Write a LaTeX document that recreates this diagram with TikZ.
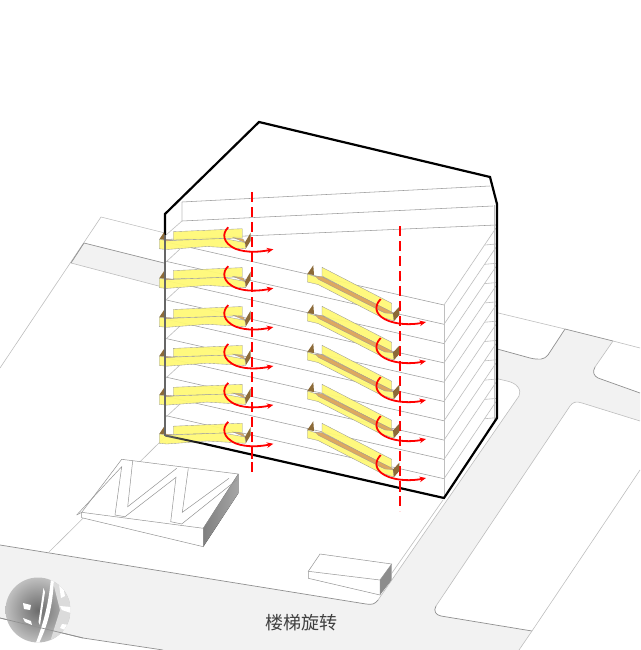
\documentclass[tikz,border=0pt]{standalone}
\usepackage{fontspec}
\newfontfamily\cjkfont{Noto Sans CJK SC}
\usetikzlibrary{arrows.meta}
\definecolor{roadgrey}{HTML}{F2F2F2}
\definecolor{thinline}{HTML}{BEBEBE}
\definecolor{curbline}{HTML}{909090}
\definecolor{stairyellow}{HTML}{FFF976}
\definecolor{stairbrown}{HTML}{8C6A38}
\definecolor{stairorange}{HTML}{DDA860}
\definecolor{blockdark}{HTML}{8C8C8C}
\tikzset{
  thin grey/.style={draw=thinline,line width=0.6pt},
  curb/.style={draw=curbline,line width=0.7pt},
  floorline/.style={draw=black!38,line width=0.55pt},
  blockline/.style={draw=black!42,line width=0.5pt},
  yellowface/.style={fill=stairyellow,fill opacity=0.94,draw=black!40,line width=0.35pt},
  brownface/.style={fill=stairbrown,draw=none},
  orangeface/.style={fill=stairorange,draw=black!40,line width=0.3pt},
  turn/.style={draw=red,line width=1.8pt,-{Stealth[length=6.5pt,width=5.5pt]}},
  axisline/.style={draw=red,line width=1.5pt,dash pattern=on 10pt off 5pt},
  outline/.style={draw=black,line width=2.2pt,line join=miter}
}
\begin{document}
\begin{tikzpicture}[x=1pt,y=-1pt]
\useasboundingbox (0,0) rectangle (640,650);
% road surface
\fill[roadgrey] (0,545) -- (366,604) .. controls (372,605) and (375,604) .. (378,600) -- (519,396)
  .. controls (522,390) and (517,383) .. (507,381) -- (490,377) -- (490,347) -- (530,358)
  .. controls (539,360) and (544,360) .. (548,355) -- (565,329) -- (613,341) -- (595,367)
  .. controls (592,372) and (594,376) .. (598,378) -- (640,393) -- (640,421) -- (582,403)
  .. controls (576,401) and (573,402) .. (570,406) -- (436,606)
  .. controls (433,611) and (436,615) .. (441,616) -- (532,631) -- (519,650) -- (163,650)
  -- (83,638) -- (0,618) -- cycle;
\fill[roadgrey] (84,243) -- (176,266) -- (170,289) -- (71,263) -- cycle;
% road edges and site lines
\draw[curb] (0,545) -- (366,604) .. controls (372,605) and (375,604) .. (378,600);
\draw[thin grey] (378,600) -- (519,396) .. controls (522,390) and (517,383) .. (507,381) -- (490,377);
\draw[thin grey] (380,590) -- (443,500);
\draw[curb] (0,618) -- (83,638) -- (163,650);
\draw[curb] (490,347) -- (530,358) .. controls (539,360) and (544,360) .. (548,355);
\draw[curb] (548,355) -- (565,329);
\draw[curb] (565,329) -- (613,341);
\draw[thin grey] (613,341) -- (595,367);
\draw[curb] (595,367) .. controls (592,372) and (594,376) .. (598,378) -- (640,393);
\draw[thin grey] (640,421) -- (582,403) .. controls (576,401) and (573,402) .. (570,406) -- (436,606);
\draw[curb] (436,606) .. controls (433,611) and (436,615) .. (441,616) -- (532,631);
\draw[thin grey] (640,470) -- (532,631) -- (519,650);
\draw[thin grey] (490,311) -- (565,329);
\draw[thin grey] (613,341) -- (640,348);
\draw[thin grey] (165,233) -- (101,217) -- (0,368);
\draw[curb] (84,243) -- (176,266);
\draw[thin grey] (71,263) -- (170,289);
\draw[curb] (84,243) -- (71,263);
\draw[thin grey] (166,436) -- (49,552);
% building body
\fill[white] (165,214) -- (259,122) -- (490,177) -- (497,204) -- (497,418) -- (444,498) -- (165,435) -- cycle;
% roof lines
\draw[floorline] (182,202) -- (490,186);
\draw[floorline] (182,221) -- (493,206);
\draw[floorline] (166,239.5) -- (496,225);
\draw[thin grey] (182,202) -- (182,221) -- (166,235);
% floors
\foreach \k in {0,...,9}{
  \draw[floorline] (166,{242+19.3*\k}) -- (444,{305+19.3*\k});
  \draw[thin grey] (444,{305+19.3*\k}) -- (496,{228+19.3*\k});
  \draw[thin grey] (485,{245+19.3*\k}) -- (496,{244+19.3*\k});
}
\foreach \y in {262,300,339,378,417}{\draw[thin grey] (166,\y) -- (180,{\y-13});}
\draw[thin grey] (444,305) -- (444,498);
\draw[thin grey] (494,205) -- (494,420);
% rotation axes
\draw[axisline] (252,192) -- (252,476);
\draw[axisline] (400,226) -- (400,511);
% outline below stairs
\draw[outline] (165,235) -- (165,214) -- (259,122) -- (490,177) -- (497,204) -- (497,418) -- (444,498) -- (205,444);
% red axes cross the lower edge
\draw[draw=red,line width=1.5pt] (252,452) -- (252,459);
\draw[draw=red,line width=1.5pt] (400,484) -- (400,492);
% left stairs
\foreach \d in {0,38.9,77.8,116.7,155.6,194.5}{
\begin{scope}[shift={(0,\d)}]
  \fill[brownface] (159.3,239.3) -- (164,232.3) -- (166,240) -- cycle;
  \path[yellowface] (173.3,231.7) -- (242.3,228.7) -- (242.3,238) -- (173.3,240) -- cycle;
  \path[yellowface] (159.3,239.3) -- (166.7,240.7) -- (223.3,238.5) -- (245,242.5) -- (245.6,248.8) -- (207,246.5) -- (166.7,249.5) -- (159.3,248.8) -- cycle;
  \path[orangeface] (164,239.3) -- (173.3,240.3) -- (166.7,241) -- cycle;
  \path[orangeface] (233,237.5) -- (243,239) -- (245,242.5) -- cycle;
  \fill[brownface] (245,242.3) -- (250.7,232.7) -- (250.7,240.7) -- (246,248.3) -- cycle;
  \draw[turn] (228.3,227.3) .. controls (222,233) and (222,243) .. (236,249) .. controls (247,253) and (260,252) .. (273.3,249.3);
\end{scope}}
% right stairs
\foreach \d in {0,39,78,117,156}{
\begin{scope}[shift={(0,\d)}]
  \fill[brownface] (307.3,274) -- (313.3,265.3) -- (314,275) -- cycle;
  \path[yellowface] (322,267.3) -- (391.7,303.3) -- (391.7,312.7) -- (322,276) -- cycle;
  \path[yellowface] (307.3,274) -- (315,276.5) -- (320,277) -- (381,311) -- (393,313.5) -- (394,321) -- (380,316.5) -- (318,284.5) -- (307.3,282) -- cycle;
  \path[orangeface] (315,276) -- (322,276.7) -- (391.7,312) -- (393,313.5) -- (385,313) -- (318.3,279.3) -- cycle;
  \fill[brownface] (393,313.5) -- (399.3,306.7) -- (399.3,315) -- (394,321) -- cycle;
  \draw[turn] (380.7,299) .. controls (374,306) and (375,314) .. (385,319.3) .. controls (396,325) and (412,325) .. (426,322);
\end{scope}}
% left and lower edge over the stairs
\draw[draw=black!60,line width=2pt] (165,235) -- (165,436);
\shade[left color=black!60,right color=black] (165,434.5) -- (205,443) -- (205,445) -- (165,436.5) -- cycle;
% stepped block
\fill[white] (121.7,459.3) -- (238.3,474) -- (238.3,493.3) -- (203.3,546.7) -- (81.7,517.7) -- (81.7,512.3) -- cycle;
\fill[left color=black!50,right color=black!35] (238.3,474) -- (238.3,493.3) -- (203.3,546.7) -- (203.3,528.3) -- cycle;
\draw[blockline] (121.7,459.3) -- (238.3,474) -- (203.3,528.3) -- (81.7,512.3) -- cycle;
\draw[blockline] (81.7,512.3) -- (81.7,517.7) -- (203.3,546.7) -- (203.3,528.3);
\draw[blockline] (76.7,515) -- (121.7,466.7) -- (115,515) -- (125,516.7) -- (176,477.3) -- (170.7,521.7) -- (181.7,524) -- (236.7,480);
\draw[blockline] (76.7,515) -- (81.7,512.3);
\draw[blockline] (132.7,460.7) -- (127.7,506.7) -- (176.7,468.3);
\draw[blockline] (188.3,468.3) -- (182.3,512.3) -- (229,478.3);
% small block
\fill[white] (320,554) -- (391.7,564) -- (391.7,580) -- (380,595) -- (308.3,578.3) -- (308.3,571.3) -- cycle;
\fill[blockdark] (391.7,564) -- (391.7,580) -- (380,595) -- (380,580) -- cycle;
\draw[blockline] (320,554) -- (391.7,564) -- (380,580) -- (308.3,571.3) -- cycle;
\draw[blockline] (308.3,571.3) -- (308.3,578.3) -- (380,595) -- (380,580);
% sphere
\begin{scope}
  \clip (38,610) circle (32.5);
  \shade[inner color=black!58,outer color=black!25] (38,610) circle (32.5);
  \fill[black!14] (52,578) -- (72,590) -- (72,635) -- (50,642) -- (60,610) -- cycle;
  \fill[white] (51,578) .. controls (49,600) and (45,620) .. (35,645) -- (38,645) .. controls (50,622) and (53,600) .. (54,578) -- cycle;
  \fill[white] (43.5,588) -- (45,592) -- (40,625) -- (38.5,622) -- cycle;
  \fill[white] (59,584) -- (63,586) -- (65,596) -- (61,598) -- cycle;
  \fill[white] (60,606) -- (71,607) -- (71,613) -- (62,610) -- cycle;
  \fill[white] (23,603) -- (31,605) -- (30,610) -- (24,609) -- cycle;
  \fill[white] (23,618) -- (31,621) -- (32,625) -- (25,622) -- cycle;
  \fill[white] (62,624) -- (70,625) -- (68,631) -- (60,628) -- cycle;
\end{scope}
\draw[curb] (0,618) -- (83,638);
% caption
\node[font=\cjkfont\fontsize{18}{20}\selectfont,text=black!75,inner sep=0pt] (caption) at (301.5,623) {楼梯旋转};
\end{tikzpicture}
\end{document}
